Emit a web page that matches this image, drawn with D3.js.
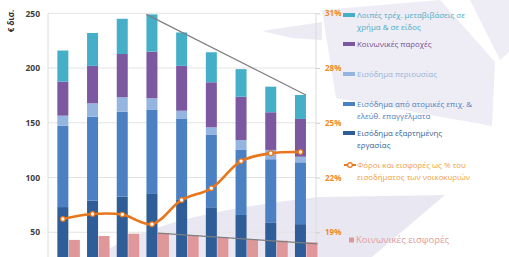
<!DOCTYPE html>
<html>
<head>
<meta charset="utf-8">
<script src="https://cdn.jsdelivr.net/npm/d3@7"></script>
<style>
  html, body { margin: 0; padding: 0; background: #ffffff; }
  svg { display: block; }
  text { font-family: "Open Sans", "Noto Sans", sans-serif; }
</style>
</head>
<body>
<svg id="chart" width="509" height="257"></svg>
<script>
// ---------------- DATA ----------------
const categories = ["2005", "2006", "2007", "2008", "2009", "2010", "2011", "2012", "2013"];
// stacked components (€ bn), bottom to top
const wages      = [73.0, 79.0, 82.5, 85.0, 79.5, 72.8, 65.8, 59.0, 57.4];   // Εισόδημα εξαρτημένης εργασίας
const selfEmp    = [74.4, 76.6, 77.6, 76.7, 74.0, 66.1, 59.4, 57.7, 56.5];   // Εισόδημα από ατομικές επιχ. & ελεύθ. επαγγέλματα
const property   = [ 9.1, 12.2, 13.2, 10.7,  7.5,  7.0,  9.1,  8.5,  5.1];   // Εισόδημα περιουσίας
const benefits   = [31.0, 34.2, 39.5, 42.6, 41.0, 41.1, 39.5, 34.4, 34.5];   // Κοινωνικές παροχές
const transfers  = [28.5, 30.0, 32.2, 34.0, 30.5, 27.4, 25.2, 23.4, 21.9];   // Λοιπές τρέχ. μεταβιβάσεις
const contributions = [43.0, 46.6, 48.7, 49.2, 47.3, 45.6, 43.8, 42.3, 40.8]; // Κοινωνικές εισφορές
const taxShare   = [19.73, 20.0, 19.97, 19.44, 20.77, 21.41, 22.9, 23.33, 23.4]; // % του εισοδήματος
const leftTicks  = [50, 100, 150, 200, 250];
const rightTicks = [19, 22, 25, 28, 31];

const seriesNames = ["wages", "selfEmp", "property", "benefits", "transfers"];
const seriesColors = {
  wages: "#2e5d98", selfEmp: "#4b80c3", property: "#93b5e0",
  benefits: "#7b58a0", transfers: "#45afc8"
};
const pinkColor = "#df9799";
const orange = "#e8761c";

const legendItems = [
  { key: "transfers", lines: ["Λοιπές τρέχ. μεταβιβάσεις σε", "χρήμα & σε είδος"], text: "#4bacc6", size: 7.9 },
  { key: "benefits",  lines: ["Κοινωνικές παροχές"], text: "#6e4f96", size: 7.9 },
  { key: "property",  lines: ["Εισόδημα περιουσίας"], text: "#95b3d7", size: 7.9 },
  { key: "selfEmp",   lines: ["Εισόδημα από ατομικές επιχ. &", "ελεύθ. επαγγέλματα"], text: "#4f81bd", size: 7.9 },
  { key: "wages",     lines: ["Εισόδημα εξαρτημένης", "εργασίας"], text: "#345f98", size: 7.9 },
  { key: "tax",       lines: ["Φόροι και εισφορές ως % του", "εισοδήματος των νοικοκυριών"], text: "#f0a040", size: 7.9 },
  { key: "contrib",   lines: ["Κοινωνικές εισφορές"], text: "#e29a9b", size: 9.5 }
];

// ---------------- LAYOUT ----------------
const svg = d3.select("#chart");
const W = 509, H = 257;
const plot = { left: 48, right: 316, top: 13.3, bottom: 287 };

const x = d3.scaleBand().domain(categories).range([plot.left, 315.3]).padding(0);
const y = d3.scaleLinear().domain([0, 250]).range([plot.bottom, plot.top]);
const yR = d3.scaleLinear().domain([16, 31]).range([plot.bottom, plot.top]);
const barW = 11;
const cx = c => x(c) + x.bandwidth() / 2;

// ---------------- WATERMARK (decorative background) ----------------
const wm = svg.append("g").attr("class", "watermark");
wm.append("path")
  .attr("d", "M95,257 C140,228 200,210 320,197 L445,195 L372,257 Z")
  .attr("fill", "#e9e8f2");
wm.append("path")
  .attr("d", "M262,31 L322,22 L322,40 L292,38 Z")
  .attr("fill", "#eceaf3");
wm.append("path")
  .attr("d", "M322,10 L440,0 L495,62 L492,126 L336,98 Z")
  .attr("fill", "#eeedf5");
wm.append("path")
  .attr("d", "M470,0 L509,0 L509,52 L500,60 Z")
  .attr("fill", "#eeedf5");

// ---------------- GRID & AXES ----------------
const grid = svg.append("g");
grid.selectAll("line.h").data(leftTicks).join("line")
  .attr("x1", plot.left).attr("x2", plot.right)
  .attr("y1", d => y(d)).attr("y2", d => y(d))
  .attr("stroke", "#e3e3e3").attr("stroke-width", 1);
grid.append("line").attr("x1", plot.left).attr("x2", plot.left)
  .attr("y1", plot.top).attr("y2", H).attr("stroke", "#dcdcdc");
grid.append("line").attr("x1", plot.right).attr("x2", plot.right)
  .attr("y1", plot.top).attr("y2", H).attr("stroke", "#dcdcdc");

const leftAxis = svg.append("g")
  .attr("transform", `translate(${plot.left - 8},0)`)
  .call(d3.axisLeft(y).tickValues(leftTicks).tickSize(0).tickPadding(0));
leftAxis.select(".domain").remove();
leftAxis.selectAll("text")
  .attr("font-size", "8.5px").attr("font-weight", "bold").attr("fill", "#404040")
  .style("font-family", "'Open Sans', sans-serif");

const rightAxis = svg.append("g")
  .attr("transform", `translate(${plot.right},0)`)
  .call(d3.axisRight(yR).tickValues(rightTicks).tickSize(4).tickPadding(5).tickFormat(d => d + "%"));
rightAxis.select(".domain").remove();
rightAxis.selectAll("line").attr("stroke", "#d0d0d0");
rightAxis.selectAll("text")
  .attr("font-size", "8px").attr("font-weight", "bold").attr("fill", "#ee8a24")
  .style("font-family", "'Open Sans', sans-serif");

svg.append("text")
  .attr("transform", "translate(14,21) rotate(-90)")
  .attr("text-anchor", "middle")
  .attr("font-size", "8px").attr("font-weight", "bold").attr("fill", "#333")
  .text("€ δισ.");

// ---------------- STACKED BARS ----------------
const table = categories.map((c, i) => ({
  cat: c, wages: wages[i], selfEmp: selfEmp[i], property: property[i],
  benefits: benefits[i], transfers: transfers[i]
}));
const stack = d3.stack().keys(seriesNames)(table);
const barsG = svg.append("g");
barsG.selectAll("g").data(stack).join("g")
  .attr("fill", d => seriesColors[d.key])
  .selectAll("rect").data(d => d).join("rect")
  .attr("x", d => cx(d.data.cat) - barW / 2)
  .attr("width", barW)
  .attr("y", d => y(d[1]))
  .attr("height", d => y(d[0]) - y(d[1]));

// pink bars (social contributions)
svg.append("g").selectAll("rect").data(categories).join("rect")
  .attr("x", c => cx(c) + barW / 2 + 0.5)
  .attr("width", barW)
  .attr("y", (c, i) => y(contributions[i]))
  .attr("height", (c, i) => y(0) - y(contributions[i]))
  .attr("fill", pinkColor);

// ---------------- TREND LINES ----------------
const totals = table.map(d => d.wages + d.selfEmp + d.property + d.benefits + d.transfers);
const i0 = 3, i1 = categories.length - 1;
svg.append("line")
  .attr("x1", cx(categories[i0]) - barW / 2).attr("y1", y(totals[i0]))
  .attr("x2", cx(categories[i1]) + barW / 2).attr("y2", y(totals[i1]))
  .attr("stroke", "#7f7f7f").attr("stroke-width", 1.2);
svg.append("line")
  .attr("x1", cx(categories[i0]) + barW / 2 + 0.5).attr("y1", y(contributions[i0]))
  .attr("x2", cx(categories[i1]) + barW * 1.5 + 0.5).attr("y2", y(contributions[i1]) + 1.5)
  .attr("stroke", "#7f7f7f").attr("stroke-width", 1.2);

// ---------------- TAX SHARE LINE ----------------
const line = d3.line()
  .x((d, i) => cx(categories[i]))
  .y(d => yR(d))
  .curve(d3.curveCatmullRom.alpha(0.5));
svg.append("path").datum(taxShare)
  .attr("d", line).attr("fill", "none")
  .attr("stroke", orange).attr("stroke-width", 2.6);
svg.append("g").selectAll("circle").data(taxShare).join("circle")
  .attr("cx", (d, i) => cx(categories[i]))
  .attr("cy", d => yR(d))
  .attr("r", 2.3)
  .attr("fill", "#fff").attr("stroke", orange).attr("stroke-width", 1.2);

// ---------------- LEGEND ----------------
const legendY = [15, 44, 74, 104, 133, 165, 240];
const lg = svg.append("g");
legendItems.forEach((it, k) => {
  const yy = legendY[k];
  const g = lg.append("g");
  if (it.key === "tax") {
    g.append("line").attr("x1", 344).attr("x2", 356).attr("y1", yy).attr("y2", yy)
      .attr("stroke", orange).attr("stroke-width", 2);
    g.append("circle").attr("cx", 350).attr("cy", yy).attr("r", 2.3)
      .attr("fill", "#fff").attr("stroke", orange).attr("stroke-width", 1.2);
  } else if (it.key === "contrib") {
    g.append("rect").attr("x", 349).attr("y", yy - 2.5).attr("width", 5).attr("height", 5)
      .attr("fill", pinkColor);
  } else {
    g.append("rect").attr("x", 343).attr("y", yy - 2).attr("width", 12).attr("height", 4)
      .attr("fill", seriesColors[it.key]);
  }
  it.lines.forEach((ln, j) => {
    g.append("text")
      .attr("x", it.key === "contrib" ? 356 : 357)
      .attr("y", yy + j * 12 + it.size * 0.35)
      .attr("font-size", it.size + "px")
      .attr("fill", it.text)
      .text(ln);
  });
});
</script>
</body>
</html>
